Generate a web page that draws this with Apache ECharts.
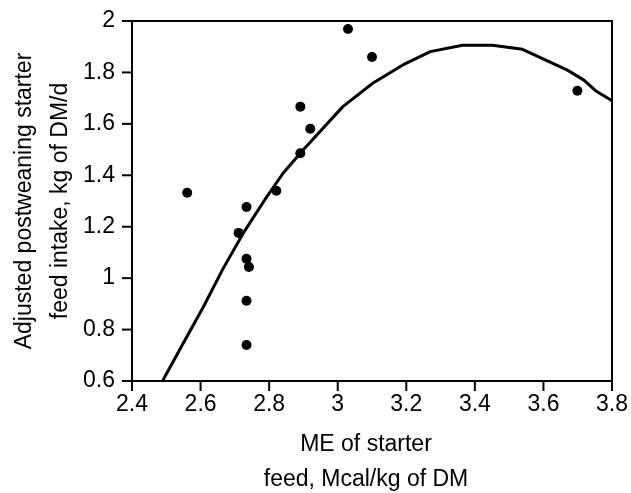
<!DOCTYPE html>
<html>
<head>
<meta charset="utf-8">
<script src="https://cdn.jsdelivr.net/npm/echarts@6/dist/echarts.min.js"></script>
<style>
  html, body { margin: 0; padding: 0; background: #fff; }
  #chart { width: 631px; height: 493px; background: #fff; }
</style>
</head>
<body>
<div id="chart"></div>
<script>
// Observed starter ME (Mcal/kg DM) and adjusted postweaning intake (kg DM/d)
const obsME = [2.561, 2.711, 2.734, 2.734, 2.741, 2.734, 2.734, 2.821, 2.891, 2.891, 2.920, 3.030, 3.100, 3.699];
const obsIntake = [1.332, 1.176, 1.277, 1.075, 1.043, 0.912, 0.740, 1.340, 1.667, 1.486, 1.581, 1.969, 1.860, 1.729];

// Fitted response curve
const fitME = [2.489, 2.549, 2.608, 2.666, 2.724, 2.787, 2.840, 2.899, 3.015, 3.102, 3.190, 3.270, 3.364, 3.451, 3.539, 3.610, 3.670, 3.718, 3.752, 3.800];
const fitIntake = [0.600, 0.746, 0.888, 1.038, 1.174, 1.304, 1.407, 1.498, 1.667, 1.758, 1.829, 1.881, 1.906, 1.906, 1.890, 1.846, 1.809, 1.770, 1.729, 1.690];

// Tick positions on each axis
const xTicks = [2.4, 2.6, 2.8, 3.0, 3.2, 3.4, 3.6, 3.8];
const yTicks = [0.6, 0.8, 1.0, 1.2, 1.4, 1.6, 1.8, 2.0];

const xTitle = ['ME of starter', 'feed, Mcal/kg of DM'];
const yTitle = ['Adjusted postweaning starter', 'feed intake, kg of DM/d'];

const FONT = '"Liberation Sans", Arial, sans-serif';
const FS = 23;
const X_MIN = 2.4, X_MAX = 3.8, Y_MIN = 0.6, Y_MAX = 2;
const TICK_LEN = 10;

const chart = echarts.init(document.getElementById('chart'));

function mainAxis(extra, labelMargin) {
  return Object.assign({
    type: 'value',
    axisLine: { show: true, lineStyle: { color: '#000', width: 2 } },
    axisTick: { show: false },
    splitLine: { show: false },
    axisLabel: { color: '#000', fontFamily: FONT, fontSize: FS, margin: labelMargin }
  }, extra);
}

function frameAxis(extra) {
  return Object.assign({
    type: 'value',
    axisLine: { show: true, lineStyle: { color: '#000', width: 2 } },
    axisTick: { show: false },
    axisLabel: { show: false },
    splitLine: { show: false }
  }, extra);
}

function titleText(id, text, x, y, rot) {
  return {
    id: id, type: 'text', x: x, y: y, rotation: rot || 0, z: 10,
    style: { text: text, fill: '#000', font: FS + 'px ' + FONT, align: 'center', verticalAlign: 'middle' }
  };
}

chart.setOption({
  grid: { left: 132, right: 18, top: 21, bottom: 112 },
  xAxis: [
    mainAxis({ min: X_MIN, max: X_MAX, interval: 0.2 }, 12),
    frameAxis({ min: X_MIN, max: X_MAX, position: 'top' })
  ],
  yAxis: [
    mainAxis({ min: Y_MIN, max: Y_MAX, interval: 0.2 }, 17),
    frameAxis({ min: Y_MIN, max: Y_MAX, position: 'right' })
  ],
  graphic: [
    titleText('xt0', xTitle[0], 366, 445),
    titleText('xt1', xTitle[1], 366, 480),
    titleText('yt0', yTitle[0], 25, 201, Math.PI / 2),
    titleText('yt1', yTitle[1], 61, 201, Math.PI / 2)
  ],
  series: [
    {
      type: 'line',
      data: fitME.map((x, i) => [x, fitIntake[i]]),
      showSymbol: false,
      smooth: false,
      lineStyle: { color: '#000', width: 3 },
      z: 2
    },
    {
      type: 'scatter',
      data: obsME.map((x, i) => [x, obsIntake[i]]),
      symbol: 'circle',
      symbolSize: 10,
      itemStyle: { color: '#000', opacity: 1 },
      z: 3
    }
  ]
});

// Outward tick marks, positioned through the axis scales
const finder = { xAxisIndex: 0, yAxisIndex: 0 };
const tickLines = [];
xTicks.forEach((v, i) => {
  const p = chart.convertToPixel(finder, [v, Y_MIN]);
  tickLines.push({
    id: 'xtick' + i, type: 'line', z: 10,
    shape: { x1: p[0], y1: p[1], x2: p[0], y2: p[1] + TICK_LEN },
    style: { stroke: '#000', lineWidth: 2 }
  });
});
yTicks.forEach((v, i) => {
  const p = chart.convertToPixel(finder, [X_MIN, v]);
  tickLines.push({
    id: 'ytick' + i, type: 'line', z: 10,
    shape: { x1: p[0] - TICK_LEN, y1: p[1], x2: p[0], y2: p[1] },
    style: { stroke: '#000', lineWidth: 2 }
  });
});
chart.setOption({ graphic: tickLines });
</script>
</body>
</html>
